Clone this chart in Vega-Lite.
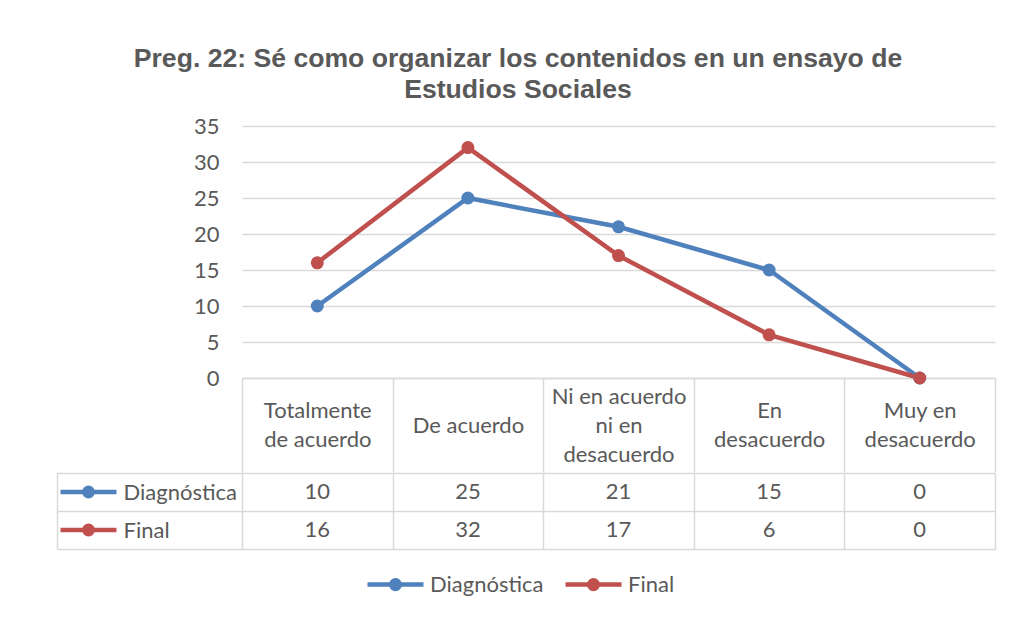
{
  "$schema": "https://vega.github.io/schema/vega-lite/v6.json",
  "background": "white",
  "padding": {"left": 56, "top": 46, "right": 14, "bottom": 10},
  "title": {
    "text": ["Preg. 22: Sé como organizar los contenidos en un ensayo de", "Estudios Sociales"],
    "font": "Liberation Sans",
    "fontSize": 26.6,
    "fontWeight": "bold",
    "color": "#595959",
    "lineHeight": 31,
    "anchor": "middle",
    "dx": -8,
    "offset": 11
  },
  "datasets": {
    "tabla": [
      {"categoria": "Totalmente de acuerdo", "serie": "Diagnóstica", "valor": 10},
      {"categoria": "De acuerdo", "serie": "Diagnóstica", "valor": 25},
      {"categoria": "Ni en acuerdo ni en desacuerdo", "serie": "Diagnóstica", "valor": 21},
      {"categoria": "En desacuerdo", "serie": "Diagnóstica", "valor": 15},
      {"categoria": "Muy en desacuerdo", "serie": "Diagnóstica", "valor": 0},
      {"categoria": "Totalmente de acuerdo", "serie": "Final", "valor": 16},
      {"categoria": "De acuerdo", "serie": "Final", "valor": 32},
      {"categoria": "Ni en acuerdo ni en desacuerdo", "serie": "Final", "valor": 17},
      {"categoria": "En desacuerdo", "serie": "Final", "valor": 6},
      {"categoria": "Muy en desacuerdo", "serie": "Final", "valor": 0}
    ]
  },
  "data": {"name": "tabla"},
  "spacing": -12,
  "vconcat": [
    {
      "width": 753,
      "height": 252,
      "encoding": {
        "x": {
          "field": "categoria",
          "type": "nominal",
          "sort": ["Totalmente de acuerdo", "De acuerdo", "Ni en acuerdo ni en desacuerdo", "En desacuerdo", "Muy en desacuerdo"],
          "bandPosition": 0.5,
          "scale": {"type": "band", "paddingInner": 0, "paddingOuter": 0},
          "axis": {
            "title": null,
            "orient": "bottom",
            "domain": true,
            "domainColor": "#D9D9D9",
            "domainWidth": 1.5,
            "ticks": true,
            "tickBand": "extent",
            "tickSize": 94,
            "tickColor": "#D9D9D9",
            "tickWidth": 1.5,
            "grid": false,
            "minExtent": 94,
            "maxExtent": 94,
            "labelAngle": 0,
            "labelFont": "Lato",
            "labelFontSize": 22,
            "labelColor": "#595959",
            "labelLineHeight": 29,
            "labelBaseline": "middle",
            "labelPadding": {
              "condition": [
                {"test": "datum.value == 'De acuerdo'", "value": -47},
                {"test": "datum.value == 'Ni en acuerdo ni en desacuerdo'", "value": -76}
              ],
              "value": -61.5
            },
            "labelLimit": 300,
            "labelOverlap": false,
            "labelFlush": false,
            "labelExpr": "datum.label == 'Totalmente de acuerdo' ? ['Totalmente', 'de acuerdo'] : datum.label == 'Ni en acuerdo ni en desacuerdo' ? ['Ni en acuerdo', 'ni en', 'desacuerdo'] : datum.label == 'En desacuerdo' ? ['En', 'desacuerdo'] : datum.label == 'Muy en desacuerdo' ? ['Muy en', 'desacuerdo'] : datum.label"
          }
        },
        "y": {
          "field": "valor",
          "type": "quantitative",
          "scale": {"domain": [0, 35], "nice": false},
          "axis": {
            "title": null,
            "values": [0, 5, 10, 15, 20, 25, 30, 35],
            "grid": true,
            "gridColor": "#D9D9D9",
            "gridWidth": 1.5,
            "domain": false,
            "ticks": false,
            "labelFont": "Lato",
            "labelFontSize": 22,
            "labelColor": "#595959",
            "labelPadding": 23,
            "minExtent": 185
          }
        },
        "color": {
          "field": "serie",
          "type": "nominal",
          "scale": {"domain": ["Diagnóstica", "Final"], "range": ["#4F81BD", "#C0504D"]},
          "legend": {
            "title": null,
            "orient": "none",
            "legendX": 123,
            "legendY": 428,
            "direction": "horizontal",
            "symbolType": "M-1,0L1,0M0.152,0A0.152,0.152,0,1,1,-0.152,0A0.152,0.152,0,1,1,0.152,0M0.054,0A0.054,0.054,0,1,1,-0.054,0A0.054,0.054,0,1,1,0.054,0",
            "symbolSize": 3136,
            "symbolStrokeWidth": 4.5,
            "symbolOpacity": 1,
            "labelFont": "Lato",
            "labelFontSize": 22,
            "labelColor": "#595959",
            "labelOffset": 4,
            "columnPadding": 12
          }
        }
      },
      "layer": [
        {"mark": {"type": "line", "strokeWidth": 4.5}},
        {"mark": {"type": "point", "filled": true, "size": 169, "opacity": 1}}
      ]
    },
    {
      "width": 753,
      "height": 76,
      "encoding": {
        "x": {
          "field": "categoria",
          "type": "nominal",
          "sort": ["Totalmente de acuerdo", "De acuerdo", "Ni en acuerdo ni en desacuerdo", "En desacuerdo", "Muy en desacuerdo"],
          "scale": {"type": "band", "paddingInner": 0, "paddingOuter": 0},
          "axis": {
            "title": null,
            "orient": "bottom",
            "labels": false,
            "ticks": false,
            "domain": false,
            "grid": true,
            "tickBand": "extent",
            "gridColor": "#D9D9D9",
            "gridWidth": 1.5
          }
        },
        "y": {
          "field": "serie",
          "type": "nominal",
          "sort": ["Diagnóstica", "Final"],
          "scale": {"type": "band", "paddingInner": 0, "paddingOuter": 0},
          "axis": {
            "title": null,
            "orient": "left",
            "grid": true,
            "gridColor": "#D9D9D9",
            "gridWidth": 1.5,
            "tickBand": "extent",
            "offset": 185,
            "ticks": true,
            "tickSize": -185,
            "tickColor": "#D9D9D9",
            "tickWidth": 1.5,
            "domain": true,
            "domainColor": "#D9D9D9",
            "domainWidth": 1.5,
            "labelAlign": "left",
            "labelBaseline": "middle",
            "labelPadding": 119,
            "labelFont": "Lato",
            "labelFontSize": 22,
            "labelColor": "#595959"
          }
        }
      },
      "layer": [
        {
          "mark": {"type": "text", "font": "Lato", "fontSize": 22, "color": "#595959", "baseline": "middle"},
          "encoding": {"text": {"field": "valor", "type": "quantitative"}}
        },
        {
          "mark": {"type": "point", "filled": false, "size": 0, "opacity": 1},
          "encoding": {
            "stroke": {
              "field": "serie",
              "type": "nominal",
              "scale": {"domain": ["Diagnóstica", "Final"], "range": ["#4F81BD", "#C0504D"]},
              "legend": {
                "title": null,
                "orient": "left",
                "direction": "vertical",
                "symbolType": "M-1,0L1,0M0.152,0A0.152,0.152,0,1,1,-0.152,0A0.152,0.152,0,1,1,0.152,0M0.054,0A0.054,0.054,0,1,1,-0.054,0A0.054,0.054,0,1,1,0.054,0",
                "symbolSize": 3136,
                "symbolStrokeWidth": 4.5,
                "symbolOpacity": 1,
                "labelExpr": "''",
                "labelOffset": 0,
                "clipHeight": 38,
                "rowPadding": 0,
                "padding": 0,
                "offset": -63
              }
            }
          }
        }
      ]
    }
  ],
  "resolve": {
    "scale": {"stroke": "independent"},
    "legend": {"stroke": "independent"}
  },
  "config": {
    "view": {"stroke": null}
  }
}
